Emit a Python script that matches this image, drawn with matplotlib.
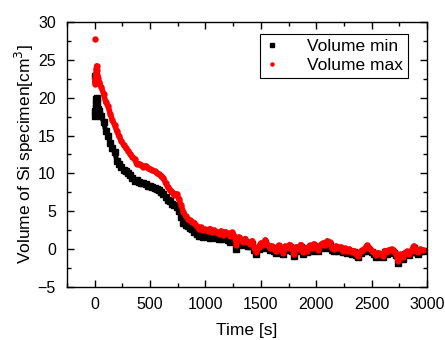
import numpy as np
import matplotlib
matplotlib.use("Agg")
import matplotlib.pyplot as plt
from matplotlib.ticker import MultipleLocator

plt.rcParams['font.family'] = ['Liberation Sans', 'DejaVu Sans']

# time grid [s]: a few early samples, then every 20 s
time_early = [0, 3, 6, 9, 12, 15, 18, 21, 25, 30, 35, 40]
time_late = list(range(60, 2961, 20))
time_s = np.array(time_early + time_late)

vol_min_early = [22.9, 17.6, 18.2, 18.6, 19.2, 19.8, 20.0, 19.5, 18.8, 18.5, 18.2, 17.9]
vol_min_late = [
    17.6, 16.8, 15.6, 15.0, 14.0, 13.3, 12.8, 11.7, 11.2, 10.8,
    10.5, 10.3, 10.0, 9.8, 9.4, 9.0, 9.1, 8.9, 8.8, 8.8,
    8.6, 8.4, 8.3, 8.2, 8.1, 8.0, 7.8, 7.6, 7.3, 6.9,
    6.5, 6.3, 6.0, 5.8, 5.6, 5.1, 4.3, 3.5, 3.2, 3.0,
    2.8, 2.6, 2.3, 2.0, 1.8, 1.9, 1.6, 1.7, 1.8, 1.5,
    1.8, 1.6, 1.5, 1.4, 1.6, 1.3, 1.5, 1.2, 1.0, 1.3,
    1.1, 0.0, 0.9, 0.8, 0.6, 0.7, 0.4, 0.4, 0.7, -0.1,
    -0.6, 0.0, 0.4, 0.2, 0.8, 0.3, -0.1, 0.1, -0.3, -0.5,
    0.2, -0.1, -0.7, 0.1, -0.1, 0.3, -0.2, -0.9, 0.0, -0.3,
    0.3, -0.6, -0.1, -0.4, 0.2, -0.2, 0.4, 0.0, -0.3, 0.3,
    0.5, 0.2, 0.8, 0.6, -0.1, -0.3, 0.1, -0.2, 0.0, -0.4,
    -0.2, -0.5, -0.3, -0.6, -0.4, -0.8, -1.1, -0.5, -0.3, -0.2,
    0.2, -0.1, -0.4, -0.6, -1.0, -0.7, -0.8, -1.1, -0.4, -0.6,
    -0.3, -0.2, -0.5, -0.8, -1.8, -0.9, -1.3, -0.7, -0.5, -0.8,
    -0.4, 0.2, -0.4, -0.6, -0.2, -0.3,
]

vol_max_early = [27.8, 22.3, 21.8, 22.8, 23.3, 23.8, 24.2, 23.6, 23.0, 22.6, 22.1, 21.9]
vol_max_late = [
    21.4, 20.5, 19.4, 18.9, 17.9, 17.0, 16.4, 15.6, 14.9, 14.3,
    13.8, 13.4, 13.0, 12.6, 12.2, 11.9, 11.2, 11.3, 11.1, 10.9,
    11.0, 10.7, 10.6, 10.4, 10.3, 10.1, 9.9, 9.7, 9.4, 8.7,
    8.2, 7.8, 7.5, 7.2, 7.3, 6.6, 5.8, 4.9, 4.4, 4.0,
    3.8, 3.6, 3.5, 3.0, 2.7, 2.9, 2.5, 2.6, 2.4, 2.7,
    2.3, 2.5, 2.2, 2.0, 2.4, 1.9, 2.3, 2.1, 1.7, 2.2,
    1.8, 0.6, 1.6, 1.3, 1.0, 1.4, 0.9, 0.7, 1.1, 0.2,
    -0.4, 0.3, 0.8, 0.5, 1.2, 0.6, 0.2, 0.4, 0.0, -0.3,
    0.5, 0.2, -0.5, 0.4, 0.2, 0.6, 0.1, -0.7, 0.3, 0.0,
    0.6, -0.4, 0.2, -0.2, 0.5, 0.1, 0.7, 0.3, -0.1, 0.6,
    0.8, 0.5, 1.1, 0.9, 0.2, 0.0, 0.4, 0.1, 0.3, -0.2,
    0.1, -0.3, 0.0, -0.4, -0.2, -0.6, -0.9, -0.3, -0.1, 0.1,
    0.5, 0.2, -0.2, -0.4, -0.8, -0.5, -0.6, -0.9, -0.2, -0.4,
    -0.1, 0.0, -0.3, -0.6, -1.6, -0.7, -1.1, -0.5, -0.3, -0.6,
    -0.2, 0.4, -0.2, -0.4, 0.0, -0.1,
]

vol_min = np.array(vol_min_early + vol_min_late)
vol_max = np.array(vol_max_early + vol_max_late)

fig = plt.figure(figsize=(4.45, 3.4), dpi=100)
ax = fig.add_axes([0.1506, 0.1559, 0.809, 0.7794])

# dense measured points: thick trace + markers so they merge into a band
# (the isolated first samples are drawn as markers only)
ax.plot(time_s[1:], vol_min[1:], color='black', linewidth=3.6, solid_joinstyle='round')
ax.plot(time_s, vol_min, linestyle='none', marker='s', markersize=4.0,
        color='black', label='Volume min')
ax.plot(time_s[1:], vol_max[1:], color='red', linewidth=4.0, solid_joinstyle='round')
ax.plot(time_s, vol_max, linestyle='none', marker='o', markersize=4.6,
        color='red', markeredgewidth=0, label='Volume max')

ax.set_xlim(-250, 3000)
ax.set_ylim(-5, 30)
ax.xaxis.set_major_locator(MultipleLocator(500))
ax.xaxis.set_minor_locator(MultipleLocator(250))
ax.yaxis.set_major_locator(MultipleLocator(5))
ax.yaxis.set_minor_locator(MultipleLocator(2.5))
ax.tick_params(which='both', direction='in', top=True, right=True, labelsize=11.5)
ax.tick_params(axis='y', pad=8)
ax.tick_params(axis='x', pad=7)
ax.tick_params(which='major', length=5, width=1)
ax.tick_params(which='minor', length=3, width=1)
for sp in ax.spines.values():
    sp.set_linewidth(1)

ax.set_xlabel('Time [s]', fontsize=12.5, labelpad=8)
ax.set_ylabel('Volume of Si specimen[cm$^3$]', fontsize=12.5, labelpad=1)

handles, labels = ax.get_legend_handles_labels()
leg = ax.legend(handles, labels, loc='upper right', bbox_to_anchor=(0.947, 0.955),
                fontsize=12.5, frameon=True, fancybox=False, edgecolor='black',
                framealpha=1, handlelength=0.8, handletextpad=1.6, borderpad=0.3,
                labelspacing=0.2, markerscale=0.7, borderaxespad=0)
leg.get_frame().set_linewidth(0.8)

fig.savefig('out.png', dpi=100)
